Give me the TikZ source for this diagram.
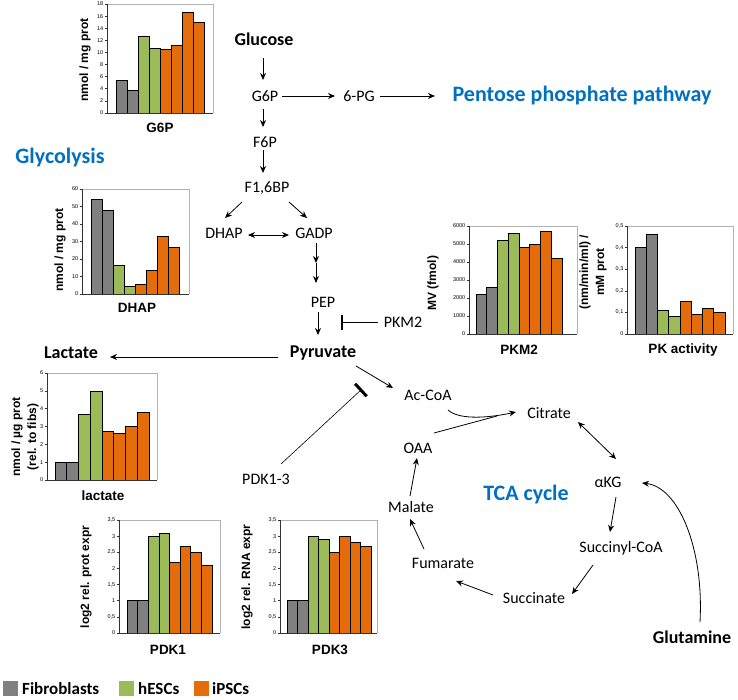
\documentclass[tikz,border=0pt]{standalone}
\usepackage{fontspec}
\setmainfont{Carlito}
\newfontfamily\arialf{Liberation Sans}
\usetikzlibrary{arrows.meta,calc}
\definecolor{fibc}{RGB}{128,128,128}
\definecolor{hesc}{RGB}{155,187,89}
\definecolor{ipsc}{RGB}{228,108,10}
\definecolor{pathblue}{RGB}{0,112,192}
\newcommand\barplot[9]{%
  \draw[framec] (#1,#4) -- (#3,#4) -- (#3,#2);
  \foreach \v [count=\i] in {#8}{%
    \ifnum\i<3 \def\bc{fibc}\else\ifnum\i<5 \def\bc{hesc}\else\def\bc{ipsc}\fi\fi
    \filldraw[fill=\bc, draw=black, line width=0.6pt] ({#6+(\i-1)*#7},#2) rectangle ({#6+\i*#7},{#2+(#4-#2)*(\v/#5)});
  }
  \draw[axisc] (#1,#4) -- (#1,#2) -- (#3,#2);
  \foreach \t/\l in {#9}{%
    \draw[axisc] ({#1-2.5},{#2+(#4-#2)*(\t/#5)}) -- (#1,{#2+(#4-#2)*(\t/#5)});
    \node[ticklab] at ({#1-3},{#2+(#4-#2)*(\t/#5)}) {\l};
  }
}
\begin{document}
\begin{tikzpicture}[x=1pt,y=-1pt,
  met/.style={font=\fontsize{16}{18}\selectfont, inner sep=2pt},
  metb/.style={font=\bfseries\fontsize{18}{20}\selectfont, inner sep=2pt},
  ptitle/.style={font=\bfseries\fontsize{22}{24}\selectfont, text=pathblue, inner sep=0pt},
  arr/.style={-{Stealth[length=7pt,width=6pt]}, line width=0.8pt},
  darr/.style={{Stealth[length=7pt,width=6pt]}-{Stealth[length=7pt,width=6pt]}, line width=0.8pt},
  inh/.style={-{Bar[width=15pt,line width=2.2pt]}, line width=0.7pt},
  inhb/.style={-{Bar[width=17pt,line width=3pt]}, line width=0.6pt},
  chartlab/.style={font=\arialf\bfseries\fontsize{13.5}{15}\selectfont, inner sep=0pt},
  ylab/.style={font=\arialf\bfseries\fontsize{12}{16}\selectfont, rotate=90, align=center, inner sep=0pt},
  ticklab/.style={font=\arialf\fontsize{5.5}{6}\selectfont, anchor=east, inner sep=0.5pt},
  framec/.style={draw=gray!60, line width=0.6pt},
  axisc/.style={draw=black!80, line width=0.6pt},
  legbox/.style={minimum size=15pt, inner sep=0pt},
  legtext/.style={font=\bfseries\fontsize{17}{19}\selectfont, anchor=west, inner sep=0pt},
]
\useasboundingbox (0,0) rectangle (738,699);

% ---------- bar charts ----------
\barplot{107}{113}{213}{4}{18}{116}{11}{5.4,3.8,12.6,10.7,10.5,11.1,16.6,15}{0/0,2/2,4/4,6/6,8/8,10/10,12/12,14/14,16/16,18/18}
\node[ylab] at (85,60) {nmol / mg prot};
\node[chartlab] at (160,128) {G6P};

\barplot{82}{294}{189}{189}{60}{91}{11}{54,48,16.5,4.5,5.5,13.5,33,26.5}{0/0,10/10,20/20,30/30,40/40,50/50,60/60}
\node[ylab] at (60,250) {nmol / mg prot};
\node[chartlab] at (137,308) {DHAP};

\barplot{469}{334}{577}{226}{6000}{476}{10.75}{2200,2600,5200,5600,4800,5000,5700,4200}{0/0,1000/1000,2000/2000,3000/3000,4000/4000,5000/5000,6000/6000}
\node[ylab] at (433,283) {MV (fmol)};
\node[chartlab] at (519,350) {PKM2};

\barplot{627}{334}{733}{226}{0.5}{635}{11.25}{0.40,0.46,0.11,0.08,0.15,0.09,0.12,0.10}{0/0,0.1/0{,}1,0.2/0{,}2,0.3/0{,}3,0.4/0{,}4,0.5/0{,}5}
\node[ylab] at (593,272) {(nm/min/ml) /\\mM prot};
\node[chartlab] at (683,350) {PK activity};

\barplot{47}{480}{157}{373}{6}{55}{11.75}{1,1,3.7,5,2.75,2.6,3,3.8}{0/0,1/1,2/2,3/3,4/4,5/5,6/6}
\node[ylab] at (25,437) {nmol / µg prot\\(rel. to fibs)};
\node[chartlab] at (103,496) {lactate};

\barplot{119}{633}{220}{520}{3.5}{127}{10.6}{1,1,3,3.1,2.2,2.7,2.5,2.1}{0/0,0.5/0{,}5,1/1,1.5/1{,}5,2/2,2.5/2{,}5,3/3,3.5/3{,}5}
\node[ylab] at (86,577) {log2 rel. prot expr};
\node[chartlab] at (168,650) {PDK1};

\barplot{280}{633}{377}{520}{3.5}{287}{10.5}{1,1,3,2.9,2.5,3,2.8,2.7}{0/0,0.5/0{,}5,1/1,1.5/1{,}5,2/2,2.5/2{,}5,3/3,3.5/3{,}5}
\node[ylab] at (247,577) {log2 rel. RNA expr};
\node[chartlab] at (330,650) {PDK3};

% ---------- pathway ----------
\node[metb] (glucose) at (264,39) {Glucose};
\node[met] (g6p) at (265,96) {G6P};
\node[met] (pg6) at (359,96) {6-PG};
\node[ptitle] (ppp) at (582,96) {Pentose phosphate pathway};
\node[met] (f6p) at (265,142) {F6P};
\node[met] (f16bp) at (267,188) {F1,6BP};
\node[met] (dhap) at (224,233) {DHAP};
\node[met] (gadp) at (314,233) {GADP};
\node[met] (pep) at (323,302) {PEP};
\node[met] (pkm2) at (403,322) {PKM2};
\node[metb] (pyr) at (323,353) {Pyruvate};
\node[metb] (lact) at (71,353) {Lactate};
\node[met] (acoa) at (428,395) {Ac-CoA};
\node[met] (citrate) at (549,413) {Citrate};
\node[met] (oaa) at (418,448) {OAA};
\node[met] (akg) at (608,482) {αKG};
\node[ptitle] (tca) at (526,495) {TCA cycle};
\node[met] (succoa) at (621,548) {Succinyl-CoA};
\node[met] (succ) at (534,598) {Succinate};
\node[met] (fum) at (443,563) {Fumarate};
\node[met] (mal) at (411,507) {Malate};
\node[metb] (glut) at (692,637) {Glutamine};
\node[met] (pdk) at (266,479) {PDK1-3};
\node[ptitle] (glyc) at (60,158) {Glycolysis};

\draw[arr] ($(glucose)+(-1,19)$) -- ($(g6p)+(-2,-16)$);
\draw[arr] ($(g6p)+(17,0)$) -- ($(pg6)+(-24,0)$);
\draw[arr] ($(pg6)+(21,0)$) -- ($(ppp)+(-147,0)$);
\draw[arr] ($(g6p)+(-2,13)$) -- ($(f6p)+(-2,-15)$);
\draw[arr] ($(f6p)+(-2,8)$) -- ($(f16bp)+(-4,-15)$);
\draw[arr] ($(f16bp)+(-25,14)$) -- ($(dhap)+(1,-15)$);
\draw[arr] ($(f16bp)+(22,14)$) -- ($(gadp)+(-7,-15)$);
\draw[darr] ($(dhap)+(24,2)$) -- ($(gadp)+(-25,2)$);
\coordinate (gmid) at ($(gadp)+(2,30)$);
\draw[arr] ($(gadp)+(2,10)$) -- (gmid);
\draw[arr] (gmid) -- ($(pep)+(-7,-19)$);
\draw[arr] ($(pep)+(-5,10)$) -- ($(pyr)+(-5,-18)$);
\draw[inh] ($(pkm2)+(-25,0)$) -- ($(pkm2)+(-62,0)$);
\draw[arr] ($(pyr)+(-45,4)$) -- ($(lact)+(39,4)$);
\draw[arr] ($(pyr)+(33,13)$) -- ($(acoa)+(-35,-7)$);
\draw[inhb] ($(pdk)+(15,-15)$) -- ($(pdk)+(96,-90)$);
\coordinate (junc) at ($(citrate)+(-52,3)$);
\draw[arr] ($(acoa)+(20,15)$) .. controls ($(acoa)+(30,24)$) and ($(acoa)+(55,24)$) .. ($(citrate)+(-33,-1)$);
\draw[line width=0.8pt] ($(oaa)+(16,-15)$) -- (junc);
\draw[darr] ($(citrate)+(29,9)$) -- ($(akg)+(8,-23)$);
\draw[arr] ($(akg)+(8,15)$) -- ($(succoa)+(-11,-16)$);
\draw[arr] ($(succoa)+(-28,17)$) -- ($(succ)+(38,-4)$);
\draw[arr] ($(succ)+(-41,-3)$) -- ($(fum)+(13,18)$);
\draw[arr] ($(fum)+(-19,-14)$) -- ($(mal)+(-1,12)$);
\draw[arr] ($(mal)+(-1,-11)$) -- ($(oaa)+(-1,10)$);
\draw[arr] ($(glut)+(8,-15)$) .. controls ($(glut)+(12,-90)$) and ($(akg)+(70,5)$) .. ($(akg)+(34,1)$);

% ---------- legend ----------
\node[legbox, fill=fibc] (lg1) at (10.5,688.5) {};
\node[legtext] (lt1) at (22,689) {Fibroblasts};
\node[legbox, fill=hesc] (lg2) at (126.5,688.5) {};
\node[legtext] (lt2) at (138,689) {hESCs};
\node[legbox, fill=ipsc] (lg3) at (201.5,688.5) {};
\node[legtext] (lt3) at (212,689) {iPSCs};
\end{tikzpicture}
\end{document}
